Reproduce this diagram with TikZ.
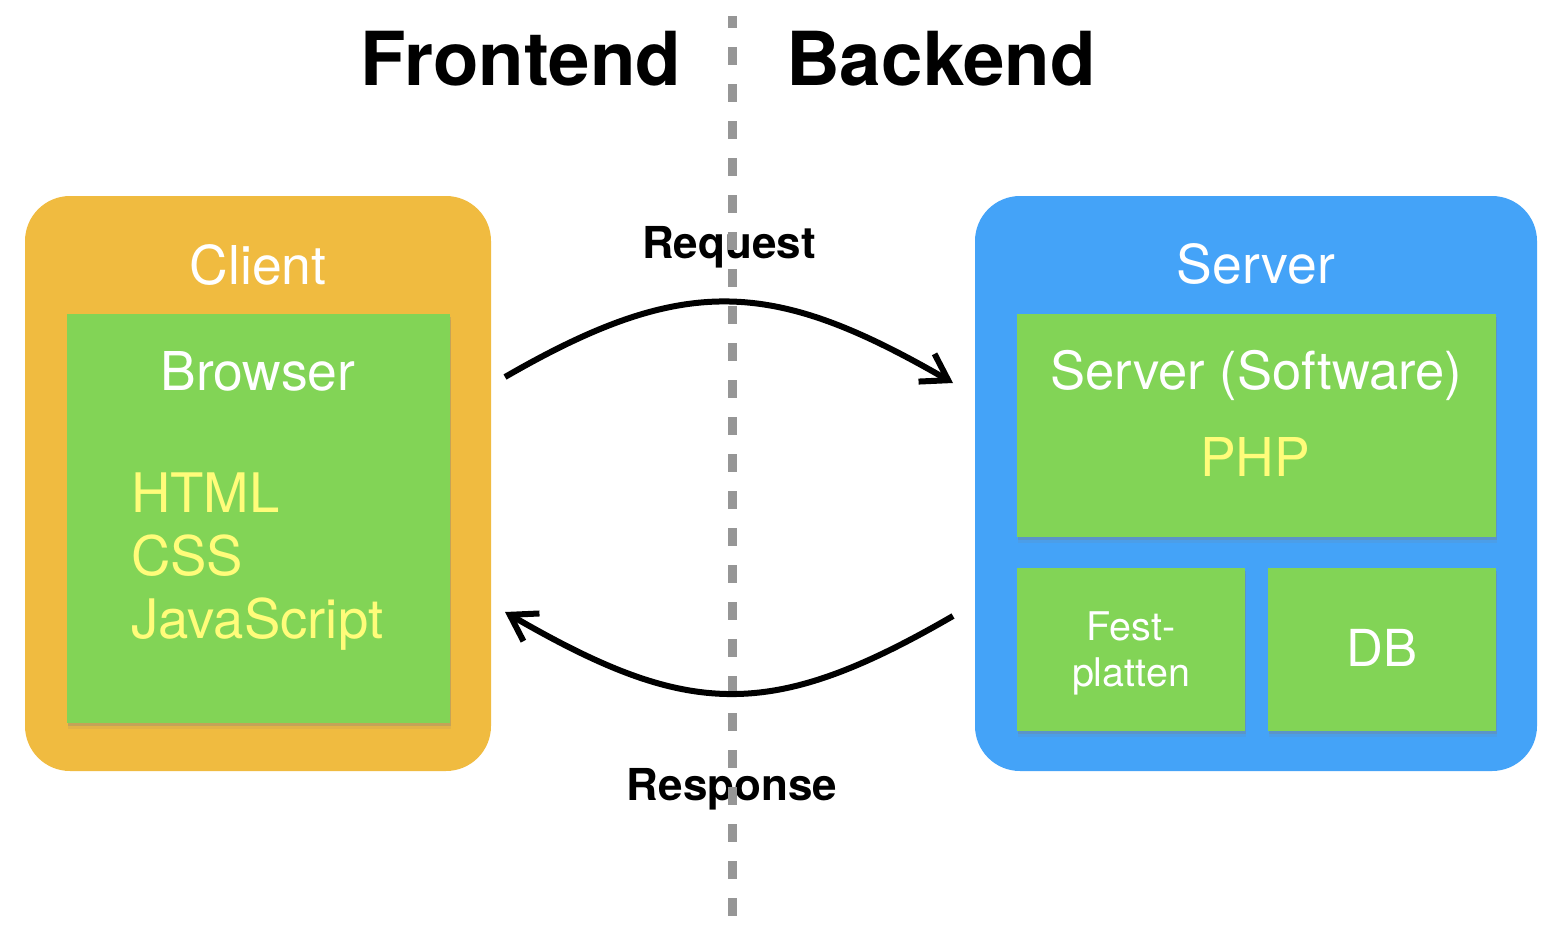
\documentclass[tikz,border=0pt]{standalone}
\usepackage{fontspec}
\setmainfont{TeX Gyre Heros}
\usepackage{tikz}
\usetikzlibrary{arrows.meta, shadows}
\definecolor{clientorange}{RGB}{240,187,64}
\definecolor{serverblue}{RGB}{68,163,248}
\definecolor{partgreen}{RGB}{130,212,86}
\definecolor{techyellow}{RGB}{255,252,122}
\definecolor{dividegray}{RGB}{150,150,150}
\tikzstyle{machine} = [rectangle, rounded corners=45pt, inner sep=0pt]
\tikzstyle{part} = [rectangle, fill=partgreen, inner sep=0pt, drop shadow={shadow xshift=1pt, shadow yshift=-6pt, opacity=0.12}, drop shadow={shadow xshift=1pt, shadow yshift=-3pt, opacity=0.3}]
\tikzstyle{title} = [white, inner sep=0pt, anchor=base, font=\fontsize{53.5}{60}\selectfont]
\tikzstyle{tech} = [techyellow, inner sep=0pt, anchor=base west, font=\fontsize{54.5}{60}\selectfont]
\tikzstyle{side} = [inner sep=0pt, anchor=base, font=\bfseries\fontsize{74.5}{80}\selectfont]
\tikzstyle{msg} = [inner sep=0pt, anchor=base, font=\bfseries\fontsize{44}{50}\selectfont]
\tikzstyle{arrow} = [line width=6pt, -{Straight Barb[length=25pt,width=32pt]}]

\begin{document}
\begin{tikzpicture}[x=1pt, y=-1pt]
    \useasboundingbox (0,0) rectangle (1556,938);
    \node (frontend) [side] at (521,85) {Frontend};
    \node (backend) [side] at (941,85) {Backend};
    % client side
    \node (client) [machine, fill=clientorange, minimum width=466pt, minimum height=575pt] at (258,483.5) {};
    \node (browser) [part, minimum width=383pt, minimum height=409pt] at (258.5,518.5) {};
    \node (clientlbl) [title] at (258,284) {Client};
    \node (browserlbl) [title] at (258,390) {Browser};
    \node (html) [tech] at (131,512) {HTML};
    \node (css) [tech] at (131,575) {CSS};
    \node (js) [tech] at (131,638.5) {JavaScript};
    % server side
    \node (server) [machine, fill=serverblue, minimum width=562pt, minimum height=575pt] at (1256,483.5) {};
    \node (software) [part, minimum width=479pt, minimum height=223pt] at (1256.5,425.5) {};
    \node (disks) [part, minimum width=228pt, minimum height=163pt] at (1131,649.5) {};
    \node (db) [part, minimum width=228pt, minimum height=163pt] at (1382,649.5) {};
    \node (serverlbl) [title] at (1256,283) {Server};
    \node (softwarelbl) [title, font=\fontsize{52.5}{60}\selectfont] at (1256,389.5) {Server (Software)};
    \node (php) [title, techyellow] at (1255,476) {PHP};
    \node (disklbla) [title, font=\fontsize{39.5}{45}\selectfont] at (1131,640) {Fest-};
    \node (disklblb) [title, font=\fontsize{39.5}{45}\selectfont] at (1131,686) {platten};
    \node (dblbl) [title, font=\fontsize{51}{56}\selectfont] at (1382,666) {DB};
    % messages
    \node (request) [msg] at (729,258) {Request};
    \node (response) [msg] at (732,800) {Response};
    \draw [dividegray, line width=9pt, dash pattern=on 18pt off 19pt, dash phase=6pt] (732,16) -- (732,917);
    \coordinate (reqout) at (505,377);
    \coordinate (reqin) at (953,383);
    \coordinate (resout) at (953,616);
    \coordinate (resin) at (505,612);
    \draw [arrow] (reqout) .. controls (685,273) and (773,279) .. (reqin);
    \draw [arrow] (resout) .. controls (770,722) and (688,718) .. (resin);
\end{tikzpicture}
\end{document}
